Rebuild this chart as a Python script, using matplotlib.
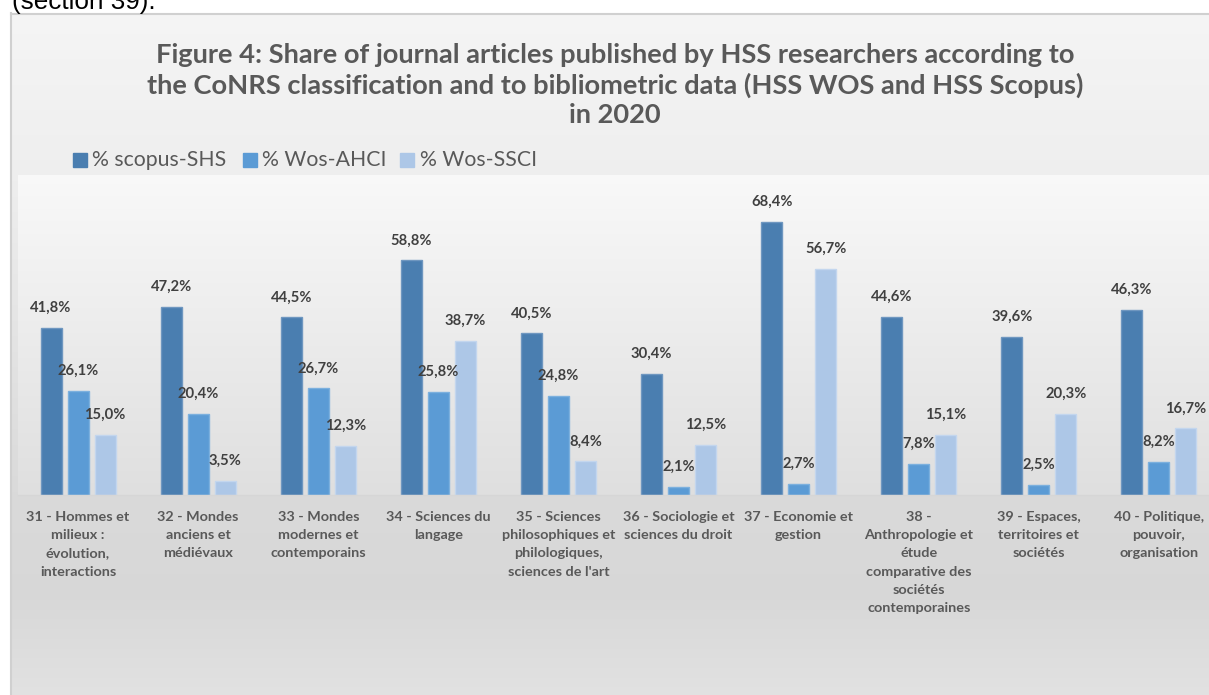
import numpy as np
import matplotlib
matplotlib.use("Agg")
import matplotlib.pyplot as plt
from matplotlib.patches import Rectangle

# ---------------- data ----------------
categories = [
    "31 - Hommes et\nmilieux :\névolution,\ninteractions",
    "32 - Mondes\nanciens et\nmédiévaux",
    "33 - Mondes\nmodernes et\ncontemporains",
    "34 - Sciences du\nlangage",
    "35 - Sciences\nphilosophiques et\nphilologiques,\nsciences de l'art",
    "36 - Sociologie et\nsciences du droit",
    "37 - Economie et\ngestion",
    "38 -\nAnthropologie et\nétude\ncomparative des\nsociétés\ncontemporaines",
    "39 - Espaces,\nterritoires et\nsociétés",
    "40 - Politique,\npouvoir,\norganisation",
]
series_names = ["% scopus-SHS", "% Wos-AHCI", "% Wos-SSCI"]
scopus_shs = [41.8, 47.2, 44.5, 58.8, 40.5, 30.4, 68.4, 44.6, 39.6, 46.3]
wos_ahci = [26.1, 20.4, 26.7, 25.8, 24.8, 2.1, 2.7, 7.8, 2.5, 8.2]
wos_ssci = [15.0, 3.5, 12.3, 38.7, 8.4, 12.5, 56.7, 15.1, 20.3, 16.7]
title_text = ("Figure 4: Share of journal articles published by HSS researchers according to\n"
              "the CoNRS classification and to bibliometric data (HSS WOS and HSS Scopus)\n"
              "in 2020")
colors = ["#4a7eb0", "#5b9bd5", "#adc7e7"]
edge_colors = ["#6f97c0", "#7cb0de", "#c3d6ee"]

W, H = 1209, 695
DPI = 100
FONT = "Lato"

fig = plt.figure(figsize=(W / DPI, H / DPI), dpi=DPI)
fig.patch.set_facecolor("white")

def fx(px):
    return px / W

def fy(py):
    return 1 - py / H

# ---- chart area background (gradient) ----
bg = fig.add_axes([fx(10), 0, fx(1215 - 10), fy(13)])
bg.set_axis_off()
ys = np.linspace(13, 700, 300)
stops_y = [13, 175, 495, 600, 700]
stops_v = [0.960, 0.935, 0.855, 0.845, 0.885]
vals = np.interp(ys, stops_y, stops_v)
img = np.repeat(vals[:, None], 2, axis=1)
bg.imshow(np.dstack([img, img, img]), aspect="auto", extent=[0, 1, 0, 1],
          interpolation="bilinear")
bg.set_xlim(0, 1)
bg.set_ylim(0, 1)
fig.add_artist(plt.Line2D([fx(10.5), fx(10.5)], [0, fy(13)], color="#d0d0d0", lw=1.5))
fig.add_artist(plt.Line2D([fx(10.5), 1], [fy(13.5), fy(13.5)], color="#d0d0d0", lw=1.5))

# ---- text above chart (cut off in the original too) ----
fig.text(fx(12), fy(9), "(section 39).", fontsize=18.8, family="Liberation Sans",
         color="black", va="baseline", ha="left")

# ---- plot area ----
left_px, right_px, top_px, bot_px = 18, 1219, 175, 495
ax = fig.add_axes([fx(left_px), fy(bot_px), (right_px - left_px) / W, (bot_px - top_px) / H])
grad = np.linspace(0.975, 0.875, 200)[:, None]
grad = np.repeat(grad, 2, axis=1)
ax.imshow(np.dstack([grad, grad, grad]), aspect="auto", extent=[0, 1, 0, 1],
          transform=ax.transAxes, interpolation="bilinear", zorder=0)

x = np.arange(len(categories))
bw = 0.175
step = 0.225
ymax = 80.2
for i, (vals_s, c, ec) in enumerate(zip([scopus_shs, wos_ahci, wos_ssci], colors, edge_colors)):
    xs = x + (i - 1) * step
    ax.bar(xs, vals_s, width=bw, color=c, edgecolor=ec, linewidth=1, zorder=2)
    for xi, v in zip(xs, vals_s):
        ax.annotate(f"{v:.1f}%".replace(".", ","), (xi, v), xytext=(0, 14.4),
                    textcoords="offset points", ha="center", va="center",
                    fontsize=10.6, fontweight="bold", color="#404040", family=FONT, zorder=3)

ax.set_xlim(-0.5, len(categories) - 0.5)
ax.set_ylim(0, ymax)
ax.set_yticks([])
ax.set_xticks(x)
ax.set_xticklabels(categories, fontsize=10.4, fontweight="bold", color="#595959",
                   family=FONT, va="top", linespacing=1.62)
ax.tick_params(axis="x", length=0, pad=11.5)
for s in ["top", "left", "right"]:
    ax.spines[s].set_visible(False)
ax.spines["bottom"].set_color("#d6d6d6")
ax.spines["bottom"].set_linewidth(1)

# ---- title ----
fig.text(fx(615), fy(85), title_text, ha="center", va="center", fontsize=19.6,
         fontweight="bold", color="#595959", family=FONT, linespacing=1.25)

# ---- legend (manual) ----
leg_items = [(73, 92), (243, 262), (400, 420)]
for (sq_x, tx), name, c in zip(leg_items, series_names, colors):
    fig.add_artist(Rectangle((fx(sq_x), fy(167)), fx(14), 14 / H, color=c,
                             transform=fig.transFigure))
    fig.text(fx(tx), fy(160), name, ha="left", va="center", fontsize=15.3,
             color="#595959", family=FONT)

fig.savefig("out.png", dpi=DPI)
